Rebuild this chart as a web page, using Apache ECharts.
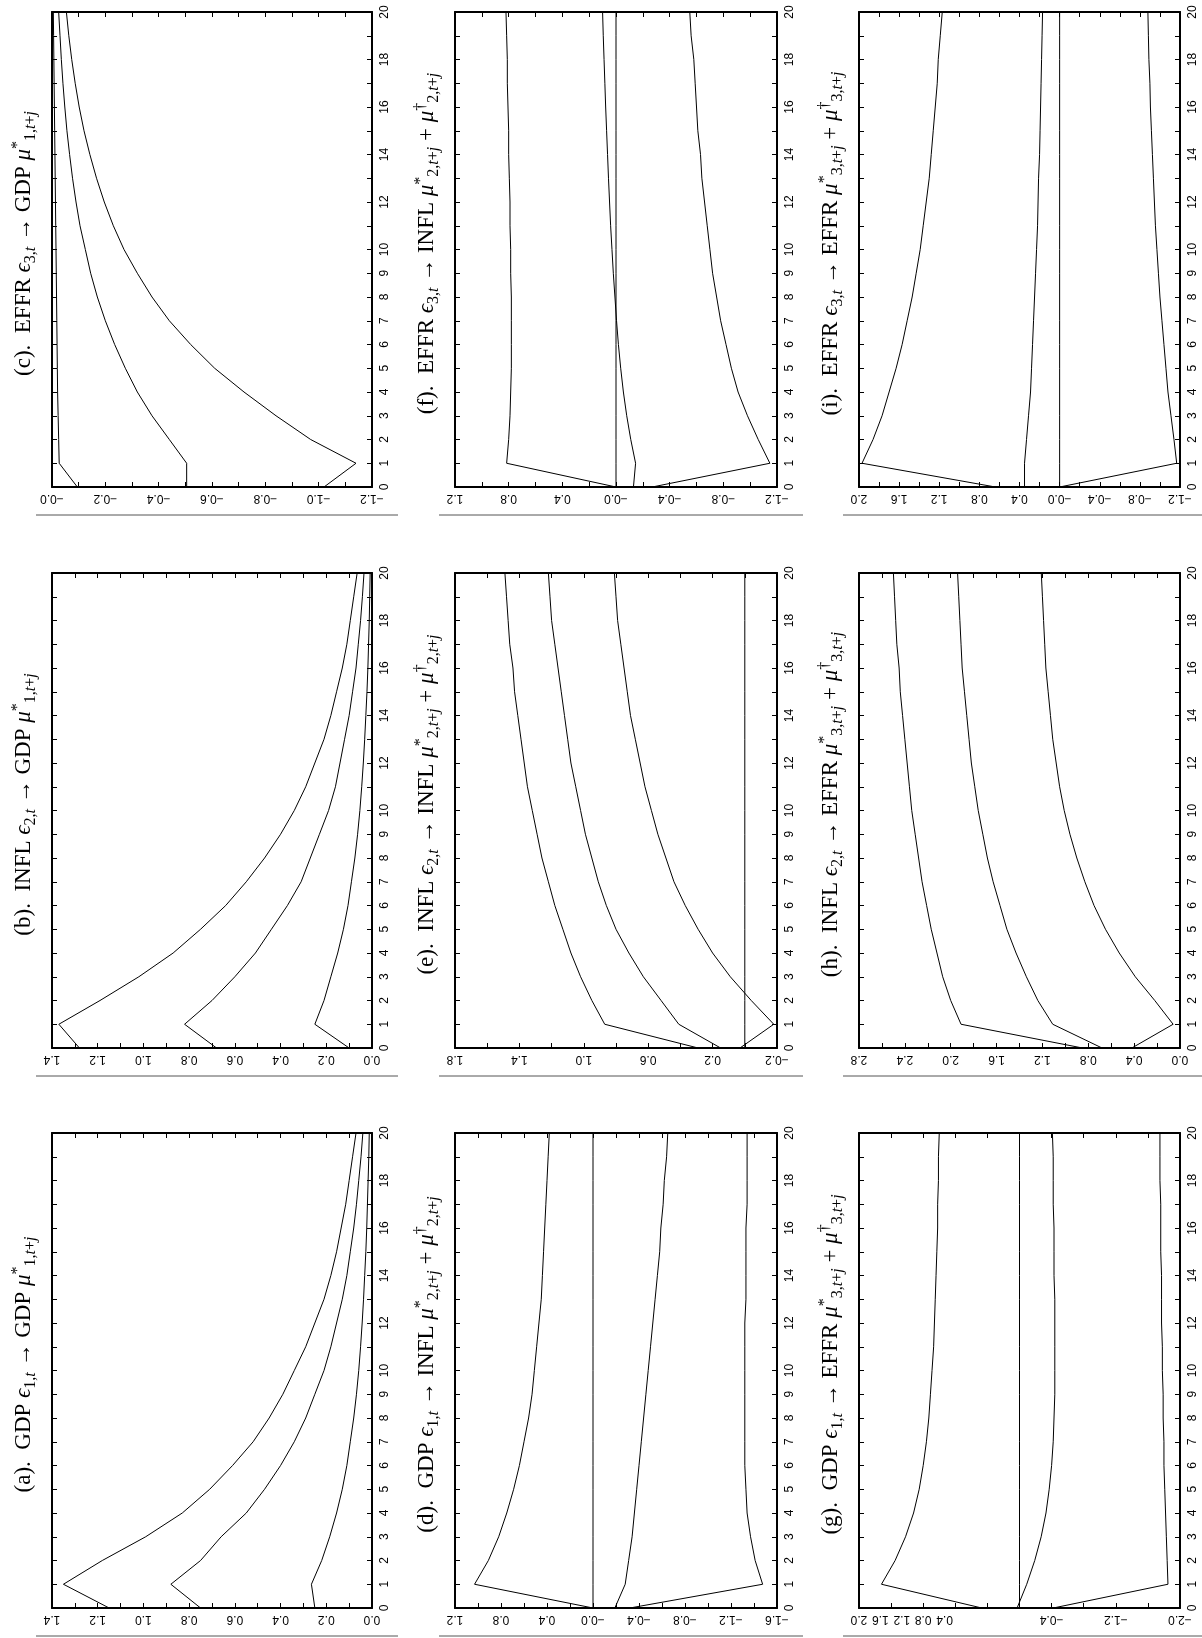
<!DOCTYPE html>
<html><head><meta charset="utf-8">
<script src="https://cdn.jsdelivr.net/npm/echarts@6/dist/echarts.min.js"></script>
<style>html,body{margin:0;padding:0;background:#fff}#c{width:1202px;height:1638px}</style>
</head><body><div id="c"></div>
<script>
// horizon j
const horizon = [0,1,2,3,4,5,6,7,8,9,10,11,12,13,14,15,16,17,18,19,20];
const horizonTickLabels = ['0','1','2','3','4','5','6','7','8','9','10','','12','','14','','16','','18','','20'];

// (a) GDP e1 -> GDP
const a_upper  = [1.15,1.35,1.18,0.99,0.83,0.71,0.61,0.52,0.45,0.39,0.34,0.29,0.25,0.21,0.18,0.155,0.135,0.115,0.10,0.085,0.07];
const a_middle = [0.75,0.88,0.75,0.66,0.55,0.47,0.40,0.34,0.29,0.25,0.21,0.18,0.155,0.13,0.11,0.095,0.08,0.068,0.058,0.048,0.04];
const a_lower  = [0.25,0.265,0.22,0.185,0.155,0.13,0.11,0.095,0.08,0.068,0.058,0.05,0.043,0.037,0.032,0.027,0.023,0.02,0.017,0.014,0.012];
// (b) INFL e2 -> GDP
const b_upper  = [1.28,1.37,1.19,1.02,0.87,0.75,0.64,0.55,0.47,0.40,0.34,0.29,0.25,0.21,0.18,0.155,0.13,0.11,0.095,0.08,0.065];
const b_middle = [0.68,0.82,0.70,0.60,0.51,0.44,0.37,0.31,0.27,0.23,0.19,0.16,0.14,0.12,0.10,0.085,0.07,0.06,0.05,0.042,0.035];
const b_lower  = [0.10,0.25,0.21,0.18,0.15,0.125,0.105,0.09,0.075,0.063,0.053,0.045,0.038,0.032,0.027,0.022,0.018,0.015,0.012,0.01,0.008];
// (c) EFFR e3 -> GDP
const c_upper  = [-0.095,-0.027,-0.025,-0.023,-0.021,-0.02,-0.019,-0.018,-0.017,-0.016,-0.015,-0.014,-0.013,-0.012,-0.011,-0.01,-0.009,-0.008,-0.007,-0.006,-0.005];
const c_middle = [-0.505,-0.505,-0.44,-0.375,-0.32,-0.275,-0.235,-0.2,-0.17,-0.145,-0.125,-0.105,-0.09,-0.077,-0.066,-0.056,-0.048,-0.041,-0.035,-0.03,-0.025];
const c_lower  = [-1.02,-1.14,-0.97,-0.84,-0.72,-0.61,-0.52,-0.44,-0.375,-0.32,-0.27,-0.23,-0.196,-0.167,-0.142,-0.12,-0.102,-0.087,-0.074,-0.063,-0.054];
// (d) GDP e1 -> INFL
const d_upper  = [0.0,1.03,0.91,0.82,0.75,0.69,0.64,0.60,0.56,0.53,0.51,0.49,0.47,0.45,0.44,0.43,0.42,0.41,0.40,0.39,0.38];
const d_zero   = [0,0,0,0,0,0,0,0,0,0,0,0,0,0,0,0,0,0,0,0,0];
const d_middle = [-0.19,-0.28,-0.31,-0.34,-0.36,-0.38,-0.40,-0.42,-0.44,-0.46,-0.48,-0.50,-0.52,-0.54,-0.56,-0.58,-0.59,-0.61,-0.62,-0.64,-0.65];
const d_lower  = [-0.32,-1.475,-1.41,-1.37,-1.34,-1.33,-1.32,-1.32,-1.32,-1.32,-1.32,-1.32,-1.32,-1.33,-1.33,-1.33,-1.33,-1.34,-1.34,-1.34,-1.34];
// (e) INFL e2 -> INFL
const e_upper  = [0.29,0.87,0.95,1.02,1.08,1.13,1.18,1.22,1.26,1.29,1.32,1.35,1.37,1.39,1.41,1.43,1.44,1.46,1.47,1.48,1.49];
const e_middle = [0.15,0.41,0.52,0.63,0.72,0.80,0.86,0.91,0.95,0.99,1.02,1.05,1.08,1.10,1.12,1.14,1.16,1.18,1.20,1.21,1.22];
const e_lower  = [0.03,-0.18,-0.04,0.09,0.20,0.29,0.37,0.44,0.49,0.54,0.58,0.62,0.65,0.68,0.71,0.73,0.75,0.77,0.79,0.80,0.81];
const e_zero   = [0,0,0,0,0,0,0,0,0,0,0,0,0,0,0,0,0,0,0,0,0];
// (f) EFFR e3 -> INFL
const f_upper  = [0.0,0.815,0.80,0.79,0.785,0.78,0.78,0.78,0.78,0.785,0.785,0.79,0.79,0.795,0.80,0.80,0.805,0.81,0.81,0.815,0.82];
const f_zero   = [0,0,0,0,0,0,0,0,0,0,0,0,0,0,0,0,0,0,0,0,0];
const f_middle = [-0.13,-0.146,-0.11,-0.08,-0.055,-0.035,-0.018,-0.004,0.008,0.02,0.03,0.04,0.048,0.056,0.063,0.07,0.077,0.083,0.089,0.095,0.10];
const f_lower  = [-0.27,-1.147,-1.06,-0.98,-0.91,-0.86,-0.82,-0.78,-0.75,-0.72,-0.70,-0.68,-0.66,-0.64,-0.63,-0.61,-0.60,-0.59,-0.58,-0.56,-0.55];
// (g) GDP e1 -> EFFR
const g_upper  = [0.47,1.72,1.55,1.42,1.32,1.25,1.20,1.16,1.13,1.11,1.09,1.07,1.06,1.05,1.04,1.03,1.02,1.02,1.01,1.01,1.00];
const g_zero   = [0,0,0,0,0,0,0,0,0,0,0,0,0,0,0,0,0,0,0,0,0];
const g_middle = [0.03,-0.09,-0.19,-0.27,-0.33,-0.37,-0.40,-0.42,-0.43,-0.44,-0.44,-0.44,-0.44,-0.44,-0.43,-0.43,-0.43,-0.42,-0.42,-0.42,-0.41];
const g_lower  = [-0.42,-1.85,-1.84,-1.83,-1.82,-1.81,-1.80,-1.80,-1.79,-1.79,-1.78,-1.78,-1.77,-1.77,-1.77,-1.76,-1.76,-1.76,-1.75,-1.75,-1.75];
// (h) INFL e2 -> EFFR
const h_upper  = [0.85,1.91,2.00,2.07,2.12,2.17,2.21,2.25,2.28,2.31,2.34,2.36,2.38,2.40,2.42,2.44,2.45,2.47,2.48,2.49,2.50];
const h_middle = [0.68,1.11,1.24,1.34,1.43,1.51,1.57,1.63,1.68,1.72,1.76,1.79,1.82,1.84,1.86,1.88,1.90,1.91,1.92,1.93,1.94];
const h_lower  = [0.42,0.06,0.22,0.39,0.53,0.65,0.75,0.83,0.90,0.96,1.01,1.05,1.08,1.11,1.13,1.15,1.17,1.18,1.19,1.20,1.21];
// (i) EFFR e3 -> EFFR
const i_upper  = [0.64,1.97,1.86,1.77,1.70,1.63,1.57,1.52,1.47,1.43,1.39,1.36,1.33,1.30,1.28,1.26,1.24,1.22,1.21,1.19,1.17];
const i_middle = [0.35,0.35,0.33,0.31,0.29,0.28,0.27,0.26,0.25,0.24,0.23,0.22,0.215,0.21,0.20,0.195,0.19,0.185,0.18,0.175,0.17];
const i_zero   = [0,0,0,0,0,0,0,0,0,0,0,0,0,0,0,0,0,0,0,0,0];
const i_lower  = [0.0,-1.167,-1.14,-1.11,-1.08,-1.06,-1.04,-1.02,-1.00,-0.985,-0.97,-0.955,-0.945,-0.935,-0.925,-0.915,-0.905,-0.90,-0.89,-0.885,-0.88];

// axis ranges [min, max, label interval, zero label]
const a_axis = [0.0, 1.4, 0.2, '0.0'];
const b_axis = [0.0, 1.4, 0.2, '0.0'];
const c_axis = [-1.2, 0.0, 0.2, '−0.0'];
const d_axis = [-1.6, 1.2, 0.4, '−0.0'];
const e_axis = [-0.2, 1.8, 0.4, '0.0'];
const f_axis = [-1.2, 1.2, 0.4, '−0.0'];
const g_axis = [-2.0, 2.0, 0.8, '0.0'];
const h_axis = [0.0, 2.8, 0.4, '0.0'];
const i_axis = [-1.2, 2.0, 0.4, '−0.0'];
// panel (g) prints its positive tick labels on a compressed secondary scale
const g_posLabels = ['2.0','1.6','1.2','0.8','0.4'];
const g_posScale = [-4.0, 2.0, 0.4];

// titles: [letter, shock var, shock idx, response var, response idx, has dagger term]
const titleParts = {
  a: ['a','GDP','1','GDP','1',false], b: ['b','INFL','2','GDP','1',false], c: ['c','EFFR','3','GDP','1',false],
  d: ['d','GDP','1','INFL','2',true], e: ['e','INFL','2','INFL','2',true], f: ['f','EFFR','3','INFL','2',true],
  g: ['g','GDP','1','EFFR','3',true], h: ['h','INFL','2','EFFR','3',true], i: ['i','EFFR','3','EFFR','3',true]
};

const panels = [
  {k:'a', row:2, col:0, axis:a_axis, lines:[a_upper,a_middle,a_lower]},
  {k:'b', row:1, col:0, axis:b_axis, lines:[b_upper,b_middle,b_lower]},
  {k:'c', row:0, col:0, axis:c_axis, lines:[c_upper,c_middle,c_lower]},
  {k:'d', row:2, col:1, axis:d_axis, lines:[d_upper,d_zero,d_middle,d_lower]},
  {k:'e', row:1, col:1, axis:e_axis, lines:[e_upper,e_middle,e_lower,e_zero]},
  {k:'f', row:0, col:1, axis:f_axis, lines:[f_upper,f_zero,f_middle,f_lower]},
  {k:'g', row:2, col:2, axis:g_axis, lines:[g_upper,g_zero,g_middle,g_lower], negOnly:true},
  {k:'h', row:1, col:2, axis:h_axis, lines:[h_upper,h_middle,h_lower]},
  {k:'i', row:0, col:2, axis:i_axis, lines:[i_upper,i_middle,i_zero,i_lower]}
];

// layout (screen, rotated page)
const colLeft = [52, 455, 859], colWidth = [320, 322, 321];
const rowTop = [12, 573, 1133], rowHeight = 475;

function fmtVal(v, zeroText) {
  if (Math.abs(v) < 1e-9) return zeroText;
  return (v < 0 ? '−' : '') + Math.abs(v).toFixed(1);
}
function titleText(p) {
  const [l, sv, si, rv, ri, dag] = p;
  let s = `{n|(${l}).  ${sv} }{it|ϵ}{sub|${si},}{subi|t}{n| → ${rv} }{it|μ}{sup|*}{sub|${ri},}{subi|t}{sub|+}{subi|j}`;
  if (dag) s += `{n| + }{it|μ}{sup|†}{sub|${ri},}{subi|t}{sub|+}{subi|j}`;
  return s;
}

const grids = [], xAxes = [], yAxes = [], series = [], graphics = [];
const black = '#000';
const serif = 'Liberation Serif';
const labelFont = {fontSize: 12, fontFamily: 'Liberation Sans', color: black};
panels.forEach((p, idx) => {
  const left = colLeft[p.col], top = rowTop[p.row], w = colWidth[p.col], h = rowHeight;
  grids.push({left, top, width: w, height: h});
  const [vmin, vmax, vint, zt] = p.axis;
  const valAxisBase = {
    type: 'value', gridIndex: idx, min: vmin, max: vmax, interval: vint, inverse: true,
    axisLine: {show: true, onZero: false, lineStyle: {color: black, width: 2}},
    axisTick: {show: true, inside: true, length: 5, lineStyle: {color: black, width: 1}},
    minorTick: {show: true, splitNumber: 2, length: 5, lineStyle: {color: black, width: 1}},
    splitLine: {show: false}, minorSplitLine: {show: false}
  };
  const xMain = xAxes.length;
  xAxes.push(Object.assign({}, valAxisBase, {
    position: 'bottom',
    axisLabel: Object.assign({show: true, rotate: 180, margin: 5, showMinLabel: true, showMaxLabel: true,
      formatter: v => (p.negOnly && v > 1e-9) ? '' : fmtVal(v, zt)}, labelFont)
  }));
  xAxes.push(Object.assign({}, valAxisBase, {position: 'top', axisLabel: {show: false}}));
  if (p.negOnly) {
    xAxes.push({
      type: 'value', gridIndex: idx, min: g_posScale[0], max: g_posScale[1], interval: g_posScale[2], inverse: true,
      position: 'bottom', axisLine: {show: false}, axisTick: {show: false}, splitLine: {show: false},
      axisLabel: Object.assign({show: true, rotate: 180, margin: 5, showMinLabel: true, showMaxLabel: true,
        formatter: v => { const s = fmtVal(v, '0.0'); return g_posLabels.indexOf(s) >= 0 ? s : ''; }}, labelFont)
    });
  }
  const hAxisBase = {
    type: 'value', gridIndex: idx, min: 0, max: 20, interval: 1,
    axisLine: {show: true, onZero: false, lineStyle: {color: black, width: 2}},
    axisTick: {show: true, inside: true, length: 5, lineStyle: {color: black, width: 1}},
    splitLine: {show: false}
  };
  const yMain = yAxes.length;
  yAxes.push(Object.assign({}, hAxisBase, {
    position: 'right',
    axisLabel: Object.assign({show: true, rotate: 90, margin: 7, showMinLabel: true, showMaxLabel: true,
      formatter: v => horizonTickLabels[horizon.indexOf(Math.round(v))] || ''}, labelFont)
  }));
  yAxes.push(Object.assign({}, hAxisBase, {position: 'left', axisLabel: {show: false}}));
  p.lines.forEach(vals => {
    series.push({
      type: 'line', xAxisIndex: xMain, yAxisIndex: yMain, silent: true, animation: false,
      symbol: 'none', lineStyle: {color: black, width: 1},
      data: horizon.map((j, k) => [vals[k], j])
    });
  });
  // title (rotated)
  graphics.push({
    type: 'text', x: left - 28, y: top + h / 2 - 6, rotation: Math.PI / 2, silent: true,
    style: {
      text: titleText(titleParts[p.k]), align: 'center', verticalAlign: 'middle', fill: black,
      fontFamily: serif, fontSize: 23,
      rich: {
        n: {fontFamily: serif, fontSize: 23, lineHeight: 29, fill: black},
        it: {fontFamily: serif, fontSize: 23, lineHeight: 29, fontStyle: 'italic', fill: black},
        sub: {fontFamily: serif, fontSize: 16, lineHeight: 16, verticalAlign: 'bottom', fill: black},
        subi: {fontFamily: serif, fontSize: 16, lineHeight: 16, verticalAlign: 'bottom', fontStyle: 'italic', fill: black},
        sup: {fontFamily: serif, fontSize: 16, lineHeight: 16, verticalAlign: 'top', fill: black}
      }
    }
  });
  // separator rule under each panel
  graphics.push({
    type: 'line', silent: true,
    shape: {x1: left - 16, y1: top + h + 28, x2: Math.min(left + w + 26, 1202), y2: top + h + 28},
    style: {stroke: '#555', lineWidth: 1}
  });
});

const chart = echarts.init(document.getElementById('c'), null, {renderer: 'canvas'});
chart.setOption({
  animation: false,
  backgroundColor: '#fff',
  grid: grids, xAxis: xAxes, yAxis: yAxes, series: series, graphic: graphics
});
</script></body></html>
